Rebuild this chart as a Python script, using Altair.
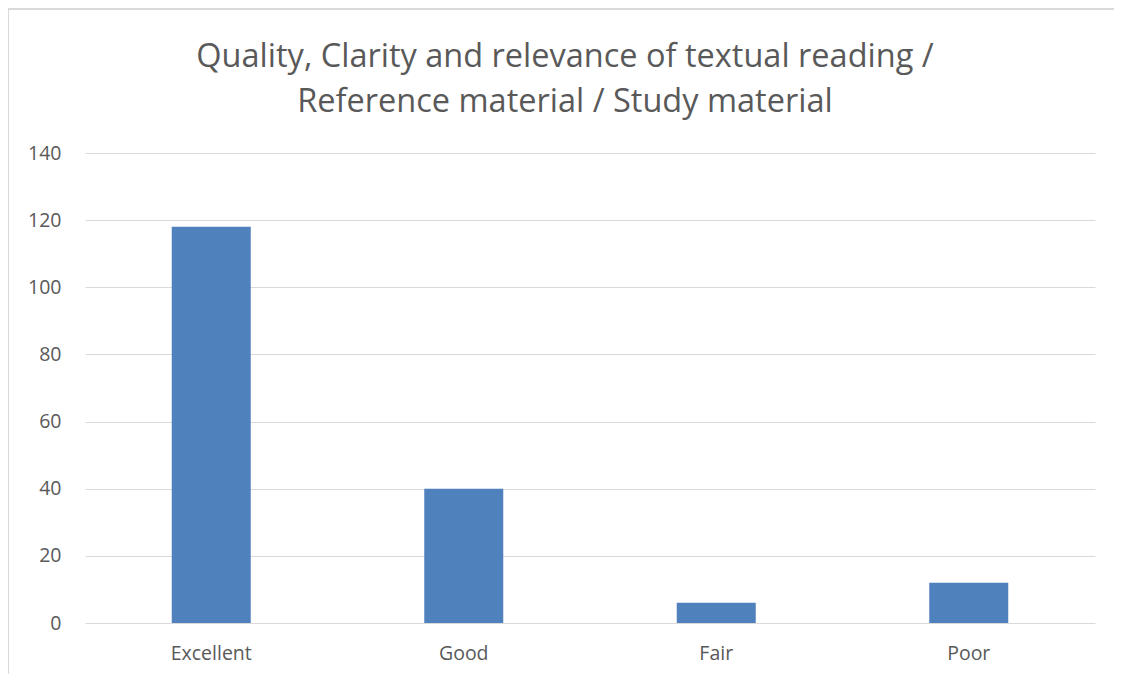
import altair as alt
import pandas as pd

categories = ["Excellent", "Good", "Fair", "Poor"]
values = [118, 40, 6, 12]

df = pd.DataFrame({"category": categories, "value": values})

FONT = "Open Sans"
GRAY = "#595959"
BORDER = "#d9d9d9"

bars = alt.Chart(df).mark_bar(color="#4F81BD", size=79).encode(
    x=alt.X("category:N", sort=categories, title=None,
            axis=alt.Axis(labelAngle=0, labelFont=FONT, labelFontSize=19.5, labelColor=GRAY,
                          ticks=False, domain=False, labelPadding=21, grid=False)),
    y=alt.Y("value:Q", title=None, scale=alt.Scale(domain=[0, 140], nice=False),
            axis=alt.Axis(values=[0, 20, 40, 60, 80, 100, 120, 140], labelFont=FONT,
                          labelFontSize=19.5, labelColor=GRAY, ticks=False, domain=False,
                          labelPadding=24, gridColor=BORDER, gridWidth=1)),
)

left_edge = alt.Chart(df).mark_rule(stroke=BORDER, strokeWidth=1.5).encode(
    x=alt.value(-77), y=alt.value(-144), y2=alt.value(560)
)
top_edge = alt.Chart(df).mark_rule(stroke=BORDER, strokeWidth=1.5).encode(
    x=alt.value(-77), x2=alt.value(1040), y=alt.value(-144)
)

chart = alt.layer(left_edge, top_edge, bars).properties(
    width=1010,
    height=470,
    title=alt.TitleParams(
        text=["Quality, Clarity and relevance of textual reading /",
              "Reference material / Study material"],
        font=FONT, fontSize=32.5, fontWeight="normal", color=GRAY,
        anchor="middle", dx=-25, offset=0, dy=110, lineHeight=45,
    ),
    autosize=alt.AutoSizeParams(type="none"),
    padding={"left": 77, "top": 145, "right": 19, "bottom": 51},
).configure_view(stroke=None)

chart.save("out.html", embed_options={"renderer": "svg", "actions": False})
